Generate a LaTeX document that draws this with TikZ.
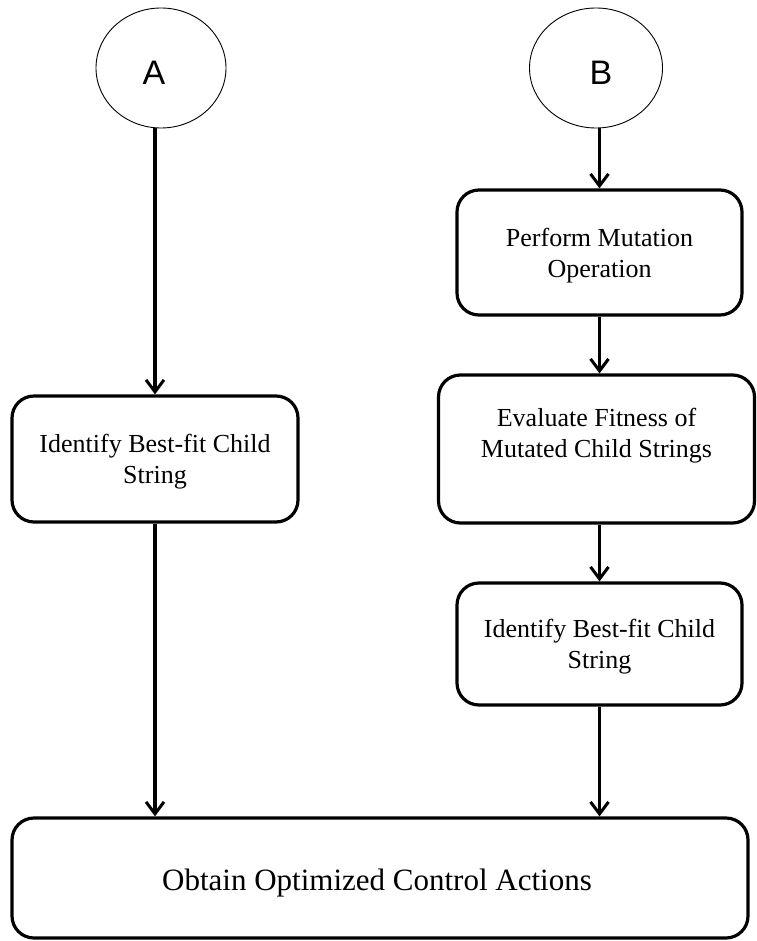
\documentclass[tikz,border=0pt]{standalone}
\usepackage{fontspec}
\setmainfont{Liberation Serif}
\newfontfamily\letterfont{Liberation Sans}
\usetikzlibrary{arrows.meta, shapes.geometric}

\tikzset{
  stepbox/.style={draw=black, line width=3.2pt, rounded corners=22pt, fill=none},
  boxtext/.style={align=center, font=\fontsize{26}{31}\selectfont, inner sep=0pt},
  terminal/.style={draw=black, line width=0.9pt, ellipse, inner sep=0pt},
  letter/.style={inner sep=0pt, font=\letterfont\fontsize{34}{36}\selectfont},
  flow/.style={line width=3.2pt, -{Straight Barb[length=12pt, width=18pt, line width=3pt]}}
}

\begin{document}
\begin{tikzpicture}[x=1pt, y=1pt]
  \useasboundingbox (0,0) rectangle (756,-941);

  % start connectors
  \node[terminal, minimum width=130pt, minimum height=120pt] (A) at (161,-68) {};
  \node[letter] (Atxt) at (154,-72.5) {A};
  \node[terminal, minimum width=133pt, minimum height=120pt] (B) at (596,-68) {};
  \node[letter] (Btxt) at (601,-72.5) {B};

  % left branch
  \node[stepbox, minimum width=286pt, minimum height=126pt] (L) at (155,-459) {};
  \node[boxtext] (Ltxt) at (155,-462) {Identify Best-fit Child\\String};

  % right branch
  \node[stepbox, minimum width=285pt, minimum height=125pt] (M) at (599.5,-252.5) {};
  \node[boxtext] (Mtxt) at (599.5,-256) {Perform Mutation\\Operation};

  \node[stepbox, minimum width=316pt, minimum height=148pt] (E) at (596.5,-449) {};
  \node[boxtext] (Etxt) at (596.5,-436) {Evaluate Fitness of\\Mutated Child Strings};

  \node[stepbox, minimum width=285pt, minimum height=122pt] (R) at (599.5,-644) {};
  \node[boxtext] (Rtxt) at (599.5,-647) {Identify Best-fit Child\\String};

  % final step
  \node[stepbox, minimum width=736pt, minimum height=120pt] (F) at (380,-878) {};
  \node[boxtext, font=\fontsize{31}{36}\selectfont] (Ftxt) at (377,-883) {Obtain Optimized Control Actions};

  % connectors
  \draw[flow] (L.north |- A.south) -- (L.north);
  \draw[flow] (M.north |- B.south) -- (M.north);
  \draw[flow] (M.south) -- (M.south |- E.north);
  \draw[flow] (R.north |- E.south) -- (R.north);
  \draw[flow] (L.south) -- (L.south |- F.north);
  \draw[flow] (R.south) -- (R.south |- F.north);
\end{tikzpicture}
\end{document}
